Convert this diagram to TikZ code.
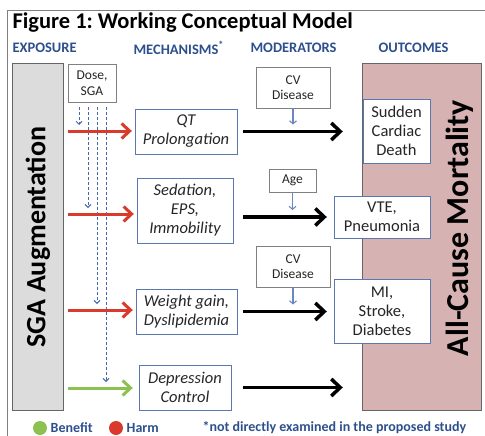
\documentclass[tikz,border=0pt]{standalone}
\usepackage{fontspec}
\setmainfont{Carlito}
\usetikzlibrary{arrows.meta}
\frenchspacing
\definecolor{hdrblue}{HTML}{2D4F8E}
\definecolor{boxblue}{HTML}{5B77B0}
\definecolor{dashblue}{HTML}{4668B0}
\definecolor{harmred}{HTML}{D93A2B}
\definecolor{benefitgreen}{HTML}{8CC152}
\definecolor{sgagray}{HTML}{DCDCDC}
\definecolor{mortpink}{HTML}{D7B2B2}
\definecolor{txtgray}{HTML}{262626}
\tikzset{
  hdr/.style={anchor=west,text=hdrblue,font=\fontsize{14.5}{16}\selectfont\bfseries},
  mech/.style={draw=boxblue,fill=white,align=center,inner sep=0pt,text=txtgray,
    font=\fontsize{16.5}{19}\selectfont\itshape},
  modr/.style={draw=gray,fill=white,align=center,inner sep=0pt,text=txtgray,
    font=\fontsize{13.5}{15.5}\selectfont},
  outc/.style={draw=boxblue,fill=white,align=center,inner sep=0pt,text=txtgray,
    font=\fontsize{16.5}{19}\selectfont},
  bar/.style={draw=gray!80!black,inner sep=0pt},
  harm/.style={harmred,line width=3pt,-{Straight Barb[length=8pt,width=15pt,line width=3pt]}},
  good/.style={benefitgreen,line width=3pt,-{Straight Barb[length=8pt,width=15pt,line width=3pt]}},
  effect/.style={black,line width=3.5pt,-{Straight Barb[length=9pt,width=17pt,line width=3.5pt]}},
  dose/.style={dashblue,densely dashed,line width=0.9pt,-{Straight Barb[length=3pt,width=6pt]}},
  modarrow/.style={dashblue!80,line width=1.1pt,-{Straight Barb[length=3pt,width=7pt]}},
  dot/.style={circle,minimum size=14pt,inner sep=0pt},
  legend/.style={anchor=west,text=hdrblue,font=\fontsize{14}{16}\selectfont\bfseries}
}
\begin{document}
\begin{tikzpicture}[x=1pt,y=-1pt]
\useasboundingbox (0,0) rectangle (485,436);
\draw[gray,line width=1pt] (7,436) |- (485,11);
\node[anchor=west,font=\fontsize{22.5}{24}\selectfont\bfseries] (title) at (9,23) {Figure 1: Working Conceptual Model};
\node[hdr] (hexp) at (9,48) {EXPOSURE};
\node[hdr] (hmech) at (130,48) {MECHANISMS\textsuperscript{*}};
\node[hdr] (hmod) at (247,48) {MODERATORS};
\node[hdr] (hout) at (375,48) {OUTCOMES};
% exposure and outcome bars
\node[bar,fill=sgagray,minimum width=51,minimum height=347] (sga) at (37.5,236.5) {};
\node[rotate=90,font=\fontsize{28}{30}\selectfont\bfseries] (sgalbl) at (38,237) {SGA Augmentation};
\node[bar,fill=mortpink,minimum width=119,minimum height=347] (mort) at (421.5,236.5) {};
\node[rotate=90,font=\fontsize{32}{34}\selectfont\bfseries] (mortlbl) at (460,228) {All-Cause Mortality};
% boxes
\node[modr,minimum width=48,minimum height=38] (dose) at (92,83) {Dose,\\SGA};
\node[mech,minimum width=102,minimum height=45] (qt) at (186,131.5) {QT\\Prolongation};
\node[mech,minimum width=96,minimum height=65] (sed) at (185,210.5) {Sedation,\\EPS,\\Immobility};
\node[mech,minimum width=101,minimum height=45] (wt) at (186.5,311.5) {Weight gain,\\Dyslipidemia};
\node[mech,minimum width=92,minimum height=45] (dep) at (185,387.5) {Depression\\Control};
\node[modr,minimum width=74,minimum height=41] (cva) at (293,87.5) {CV\\Disease};
\node[modr,minimum width=47,minimum height=23] (age) at (292.5,180.5) {Age};
\node[modr,minimum width=74,minimum height=41] (cvb) at (293,266.5) {CV\\Disease};
\node[outc,minimum width=67,minimum height=64] (scd) at (396.5,131) {Sudden\\Cardiac\\Death};
\node[outc,minimum width=96,minimum height=42] (vte) at (382,217) {VTE,\\Pneumonia};
\node[outc,minimum width=96,minimum height=64] (mi) at (382,311) {MI,\\Stroke,\\Diabetes};
% arrow starts
\coordinate (h1) at (68,131);
\coordinate (h2) at (68,214);
\coordinate (h3) at (68,310);
\coordinate (g1) at (68,388);
\coordinate (d1) at (79,107);
\coordinate (d2) at (88,107);
\coordinate (d3) at (97,107);
\coordinate (d4) at (106,107);
\foreach \d/\t in {d1/h1,d2/h2,d3/h3,d4/g1}
{
\draw[dose,shorten >=6pt] (\d) -- (\d |- \t);
}
\draw[harm,shorten >=3pt] (h1) -- (h1 -| qt.west);
\draw[harm,shorten >=3pt] (h2) -- (h2 -| sed.west);
\draw[harm,shorten >=3pt] (h3) -- (h3 -| wt.west);
\draw[good,shorten >=6pt] (g1) -- (g1 -| dep.west);
\draw[effect,shorten <=6pt,shorten >=19pt] (qt.east) -- (qt.east -| mort.west);
\draw[effect,shorten <=10pt,shorten >=7pt] (sed.east |- vte.west) -- (vte.west);
\draw[effect,shorten <=6pt,shorten >=7pt] (wt.east) -- (wt.east -| mi.west);
\draw[effect,shorten <=12pt,shorten >=19pt] (dep.east) -- (dep.east -| mort.west);
\draw[modarrow,shorten >=7pt] (cva.south) -- (cva.south |- qt.east);
\draw[modarrow,shorten >=7pt] (age.south) -- (age.south |- vte.west);
\draw[modarrow,shorten >=7pt] (cvb.south) -- (cvb.south |- wt.east);
% legend
\node[dot,fill=benefitgreen] (ben) at (40,428) {};
\node[legend] (benlbl) at (ben.east) {Benefit};
\node[dot,fill=harmred] (hrm) at (116,428) {};
\node[legend] (hrmlbl) at (hrm.east) {Harm};
\node[legend] (note) at (199,428) {*not directly examined in the proposed study};
\end{tikzpicture}
\end{document}
